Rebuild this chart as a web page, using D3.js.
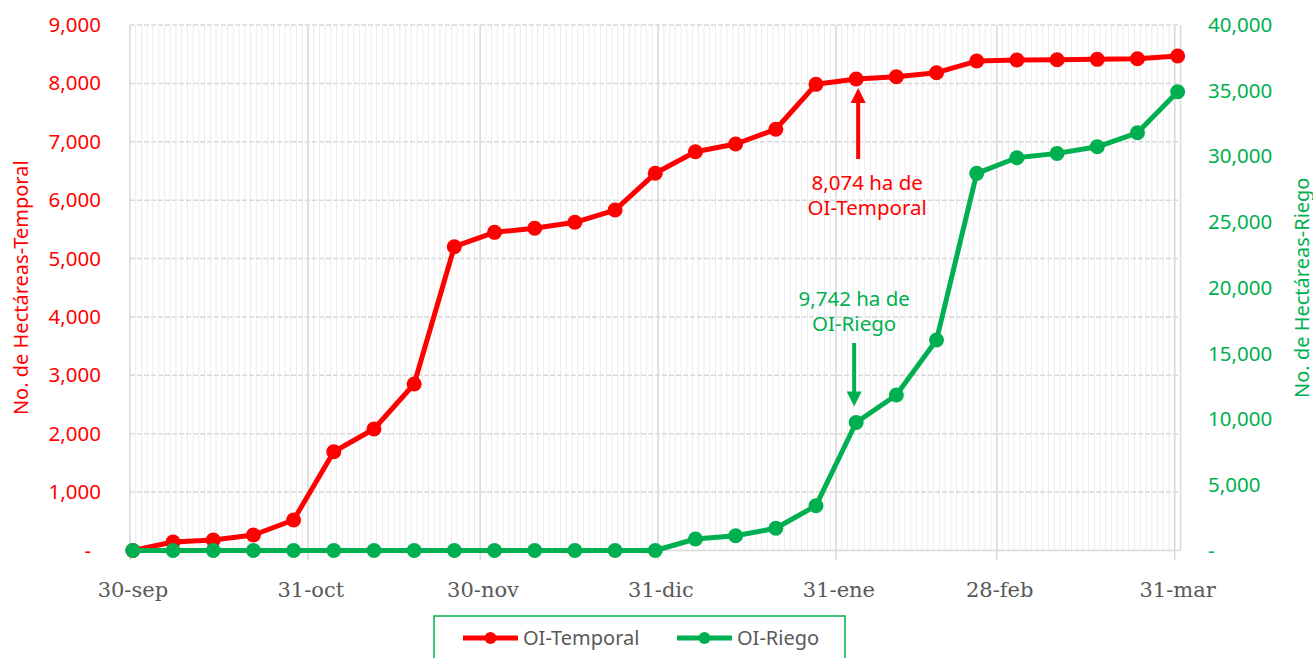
<!DOCTYPE html>
<html>
<head>
<meta charset="utf-8">
<script src="https://cdn.jsdelivr.net/npm/d3@7"></script>
<style>
  html, body { margin: 0; padding: 0; background: #fff; }
  svg { display: block; }
</style>
</head>
<body>
<svg id="chart" width="1313" height="658"></svg>
<script>
// ---- Data ----
const startDate = "2022-09-30";
const weeks = d3.range(27); // weekly observations, 30-sep .. 31-mar
const temporalValues = [0, 146, 180, 265, 522, 1692, 2081, 2852, 5203, 5449, 5518, 5621, 5831, 6460, 6830, 6962, 7214, 7984, 8074, 8114, 8183, 8383, 8400, 8405, 8412, 8423, 8469];
const riegoValues = [0, 0, 0, 0, 0, 0, 0, 0, 0, 0, 0, 0, 0, 0, 875, 1126, 1690, 3410, 9742, 11834, 16020, 28706, 29893, 30228, 30730, 31796, 34916];
const xTickDates = ["2022-09-30", "2022-10-31", "2022-11-30", "2022-12-31", "2023-01-31", "2023-02-28", "2023-03-31"];
const xTickLabels = ["30-sep", "31-oct", "30-nov", "31-dic", "31-ene", "28-feb", "31-mar"];
const leftTicks = [0, 1000, 2000, 3000, 4000, 5000, 6000, 7000, 8000, 9000];
const rightTicks = [0, 5000, 10000, 15000, 20000, 25000, 30000, 35000, 40000];
const seriesNames = ["OI-Temporal", "OI-Riego"];
const annotTemporal = ["8,074 ha de", "OI-Temporal"];
const annotRiego = ["9,742 ha de", "OI-Riego"];
const annotIndex = 18;

// ---- Setup ----
const RED = "#FF0000", GREEN = "#00B050", GRAY = "#595959", GRID = "#d9d9d9";
const parse = d3.utcParse("%Y-%m-%d");
const DAY = 24 * 3600 * 1000;
const t0 = parse(startDate);
const dates = weeks.map(k => new Date(t0.getTime() + k * 7 * DAY));

const svg = d3.select("#chart");
const pLeft = 130, pRight = 1180.5, pTop = 25, pBottom = 550.5;

const x = d3.scaleUtc().domain([t0, new Date(parse("2023-03-31").getTime() + DAY)]).range([pLeft, pRight]);
const yL = d3.scaleLinear().domain([0, 9000]).range([pBottom, pTop]);
const yR = d3.scaleLinear().domain([0, 40000]).range([pBottom, pTop]);
const mid = d => x(new Date(d.getTime() + DAY / 2));

// minor daily gridlines
const allDays = d3.utcDay.range(t0, x.domain()[1]);
svg.append("g").selectAll("line").data(allDays.slice(1)).join("line")
  .attr("x1", d => x(d)).attr("x2", d => x(d))
  .attr("y1", pTop).attr("y2", pBottom)
  .attr("stroke", "#ececec").attr("stroke-width", 1);

// horizontal dashed gridlines
svg.append("g").selectAll("line").data(leftTicks.slice(1)).join("line")
  .attr("x1", pLeft).attr("x2", pRight)
  .attr("y1", d => yL(d)).attr("y2", d => yL(d))
  .attr("stroke", GRID).attr("stroke-width", 1.5).attr("stroke-dasharray", "5,2");

// major vertical gridlines + ticks
const majors = xTickDates.map(parse);
svg.append("g").selectAll("line").data(majors).join("line")
  .attr("x1", d => x(d)).attr("x2", d => x(d))
  .attr("y1", pTop).attr("y2", pBottom + 9.5)
  .attr("stroke", GRID).attr("stroke-width", 1.5);
// right border
svg.append("line").attr("x1", pRight).attr("x2", pRight).attr("y1", pTop).attr("y2", pBottom)
  .attr("stroke", GRID).attr("stroke-width", 1.5);
// bottom axis line
svg.append("line").attr("x1", pLeft).attr("x2", pRight).attr("y1", pBottom).attr("y2", pBottom)
  .attr("stroke", GRID).attr("stroke-width", 1.5);

// x tick labels
svg.append("g").selectAll("text").data(majors).join("text")
  .attr("x", d => mid(d)).attr("y", 597)
  .attr("text-anchor", "middle")
  .attr("font-family", "DejaVu Serif").attr("font-size", 21).attr("fill", GRAY)
  .text((d, i) => xTickLabels[i]);

// left axis
const fmt = d3.format(",");
const gL = svg.append("g").attr("transform", `translate(${pLeft},0)`)
  .call(d3.axisLeft(yL).tickValues(leftTicks).tickSize(0).tickPadding(29)
    .tickFormat(d => d === 0 ? "-" : fmt(d)));
gL.select(".domain").remove();
gL.selectAll("text").attr("font-family", "Noto Sans").attr("font-size", 20.5).attr("fill", RED)
  .attr("dx", d => d === 0 ? -10 : 0);

// right axis
const gR = svg.append("g").attr("transform", `translate(${pRight},0)`)
  .call(d3.axisRight(yR).tickValues(rightTicks).tickSize(0).tickPadding(27.5)
    .tickFormat(d => d === 0 ? "-" : fmt(d)));
gR.select(".domain").remove();
gR.selectAll("text").attr("font-family", "Noto Sans").attr("font-size", 20.5).attr("fill", GREEN);

// axis titles
svg.append("text").attr("transform", `translate(28,${(pTop + pBottom) / 2}) rotate(-90)`)
  .attr("text-anchor", "middle").attr("font-family", "Noto Sans").attr("font-size", 20)
  .attr("fill", RED).text("No. de Hectáreas-Temporal");
svg.append("text").attr("transform", `translate(1309,${(pTop + pBottom) / 2}) rotate(-90)`)
  .attr("text-anchor", "middle").attr("font-family", "Noto Sans").attr("font-size", 20)
  .attr("fill", GREEN).text("No. de Hectáreas-Riego");

// series
function drawSeries(values, yScale, color) {
  const pts = values.map((v, i) => [mid(dates[i]), yScale(v)]);
  svg.append("path").attr("d", d3.line()(pts)).attr("fill", "none")
    .attr("stroke", color).attr("stroke-width", 5).attr("stroke-linejoin", "round");
  svg.append("g").selectAll("circle").data(pts).join("circle")
    .attr("cx", d => d[0]).attr("cy", d => d[1]).attr("r", 7.5).attr("fill", color);
}
drawSeries(temporalValues, yL, RED);
drawSeries(riegoValues, yR, GREEN);

// annotations
function arrow(xp, yFrom, yTip, color) {
  const dir = yTip < yFrom ? 1 : -1;
  svg.append("line").attr("x1", xp).attr("x2", xp).attr("y1", yFrom).attr("y2", yTip + dir * 12)
    .attr("stroke", color).attr("stroke-width", 4);
  svg.append("path").attr("d",
    `M${xp},${yTip} L${xp - 7.5},${yTip + dir * 15} L${xp + 7.5},${yTip + dir * 15} Z`)
    .attr("fill", color);
}
const axT = mid(dates[annotIndex]) + 2, ayT = yL(temporalValues[annotIndex]);
arrow(axT, 159, ayT + 9, RED);
svg.append("g").selectAll("text").data(annotTemporal).join("text")
  .attr("x", axT + 9).attr("y", (d, i) => 190 + i * 25)
  .attr("text-anchor", "middle").attr("font-family", "Noto Sans").attr("font-size", 20.5)
  .attr("fill", RED).text(d => d);

const axR = mid(dates[annotIndex]) - 2, ayR = yR(riegoValues[annotIndex]);
arrow(axR, 343, ayR - 16, GREEN);
svg.append("g").selectAll("text").data(annotRiego).join("text")
  .attr("x", axR).attr("y", (d, i) => 306 + i * 25)
  .attr("text-anchor", "middle").attr("font-family", "Noto Sans").attr("font-size", 20.5)
  .attr("fill", GREEN).text(d => d);

// legend
svg.append("rect").attr("x", 434).attr("y", 616).attr("width", 411).attr("height", 60)
  .attr("fill", "#fff").attr("stroke", GREEN).attr("stroke-width", 1.5);
const legendItems = [{name: seriesNames[0], color: RED, x: 463}, {name: seriesNames[1], color: GREEN, x: 677}];
const lg = svg.append("g").selectAll("g").data(legendItems).join("g")
  .attr("transform", d => `translate(${d.x},638)`);
lg.append("line").attr("x1", 0).attr("x2", 55).attr("y1", 0).attr("y2", 0)
  .attr("stroke", d => d.color).attr("stroke-width", 5);
lg.append("circle").attr("cx", 27.5).attr("cy", 0).attr("r", 6).attr("fill", d => d.color);
lg.append("text").attr("x", 60).attr("y", 7).attr("font-family", "Noto Sans").attr("font-size", 20)
  .attr("fill", GRAY).text(d => d.name);
</script>
</body>
</html>
